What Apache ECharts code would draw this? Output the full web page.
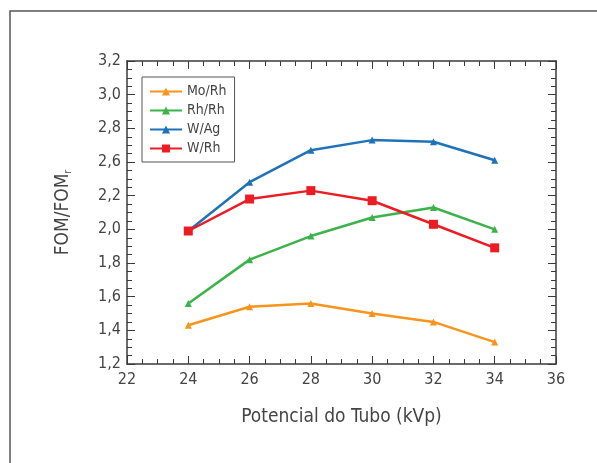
<!DOCTYPE html>
<html>
<head>
<meta charset="utf-8">
<script src="https://cdn.jsdelivr.net/npm/echarts@6/dist/echarts.min.js"></script>
<style>
  html, body { margin: 0; padding: 0; background: #fff; }
  #chart { width: 597px; height: 463px; }
</style>
</head>
<body>
<div id="chart"></div>
<script>
// kVp
var kvp = [24, 26, 28, 30, 32, 34];
// values read against the plotted scale
var moRh = [1.43, 1.54, 1.56, 1.50, 1.45, 1.33];
var rhRh = [1.56, 1.82, 1.96, 2.07, 2.13, 2.00];
var wAg  = [1.99, 2.28, 2.47, 2.53, 2.52, 2.41];
var wRh  = [1.99, 2.18, 2.23, 2.17, 2.03, 1.89];
// tick labels as printed in the figure (bottom to top)
var yTickLabels = ['1,2', '1,4', '1,6', '1,8', '2,0', '2,2', '2,6', '2,8', '3,0', '3,2'];

var font = "'DejaVu Sans Condensed', 'Liberation Sans Narrow', 'Roboto Condensed', Roboto, sans-serif";
var axisCol = '#3a3a3a';

function pairs(ys) {
  return kvp.map(function (x, i) { return [x, ys[i]]; });
}

function serie(name, ys, color, symbol, size) {
  return {
    name: name,
    type: 'line',
    data: pairs(ys),
    color: color,
    symbol: symbol,
    symbolSize: size,
    lineStyle: { width: 2.5, color: color },
    itemStyle: { color: color },
    animation: false
  };
}

var chart = echarts.init(document.getElementById('chart'));

var xBase = {
  type: 'value',
  min: 22,
  max: 36,
  interval: 2,
  axisLine: { show: true, lineStyle: { color: axisCol, width: 1.5 } },
  axisTick: { show: true, inside: true, length: 8, lineStyle: { color: axisCol, width: 1 } },
  minorTick: { show: true, splitNumber: 4, length: 5, lineStyle: { color: axisCol, width: 1 } },
  splitLine: { show: false }
};
var yBase = {
  type: 'value',
  min: 1.2,
  max: 3.0,
  interval: 0.2,
  axisLine: { show: true, lineStyle: { color: axisCol, width: 1.5 } },
  axisTick: { show: true, inside: true, length: 8, lineStyle: { color: axisCol, width: 1 } },
  minorTick: { show: true, splitNumber: 4, length: 5, lineStyle: { color: axisCol, width: 1 } },
  splitLine: { show: false }
};

var option = {
  backgroundColor: '#fff',
  animation: false,
  grid: { left: 127, right: 41, top: 61, bottom: 99, containLabel: false },
  graphic: [{
    type: 'rect',
    shape: { x: 10, y: 11, width: 700, height: 600 },
    style: { fill: 'none', stroke: '#555', lineWidth: 1.5 },
    silent: true
  }],
  legend: {
    orient: 'vertical',
    left: 142,
    top: 77,
    padding: [7, 8, 6, 7],
    itemWidth: 32,
    itemHeight: 10,
    itemGap: 4,
    borderColor: '#555',
    borderWidth: 1,
    textStyle: { fontFamily: font, fontSize: 14, color: '#444', lineHeight: 15 },
    data: ['Mo/Rh', 'Rh/Rh', 'W/Ag', 'W/Rh']
  },
  xAxis: [
    Object.assign({}, xBase, {
      position: 'bottom',
      name: 'Potencial do Tubo (kVp)',
      nameLocation: 'middle',
      nameGap: 44,
      nameTextStyle: { fontFamily: font, fontSize: 19, color: '#444' },
      axisLabel: { fontFamily: font, fontSize: 16, color: '#444', margin: 8 }
    }),
    Object.assign({}, xBase, { position: 'top', axisLabel: { show: false } })
  ],
  yAxis: [
    Object.assign({}, yBase, {
      position: 'left',
      name: 'FOM/FOM{sub|r}',
      nameLocation: 'middle',
      nameGap: 54,
      nameTextStyle: {
        fontFamily: font, fontSize: 19, color: '#444',
        rich: { sub: { fontFamily: font, fontSize: 10, color: '#444', verticalAlign: 'bottom', padding: [8, 0, 0, 0] } }
      },
      axisLabel: {
        fontFamily: font, fontSize: 16, color: '#444', margin: 6,
        formatter: function (v) { return yTickLabels[Math.round((v - 1.2) / 0.2)]; }
      }
    }),
    Object.assign({}, yBase, { position: 'right', axisLabel: { show: false } })
  ],
  series: [
    serie('Mo/Rh', moRh, '#f7941d', 'triangle', 7),
    serie('Rh/Rh', rhRh, '#3cb34a', 'triangle', 7),
    serie('W/Ag', wAg, '#1f72b8', 'triangle', 7),
    serie('W/Rh', wRh, '#ec1c24', 'rect', 9)
  ]
};

chart.setOption(option);
</script>
</body>
</html>
